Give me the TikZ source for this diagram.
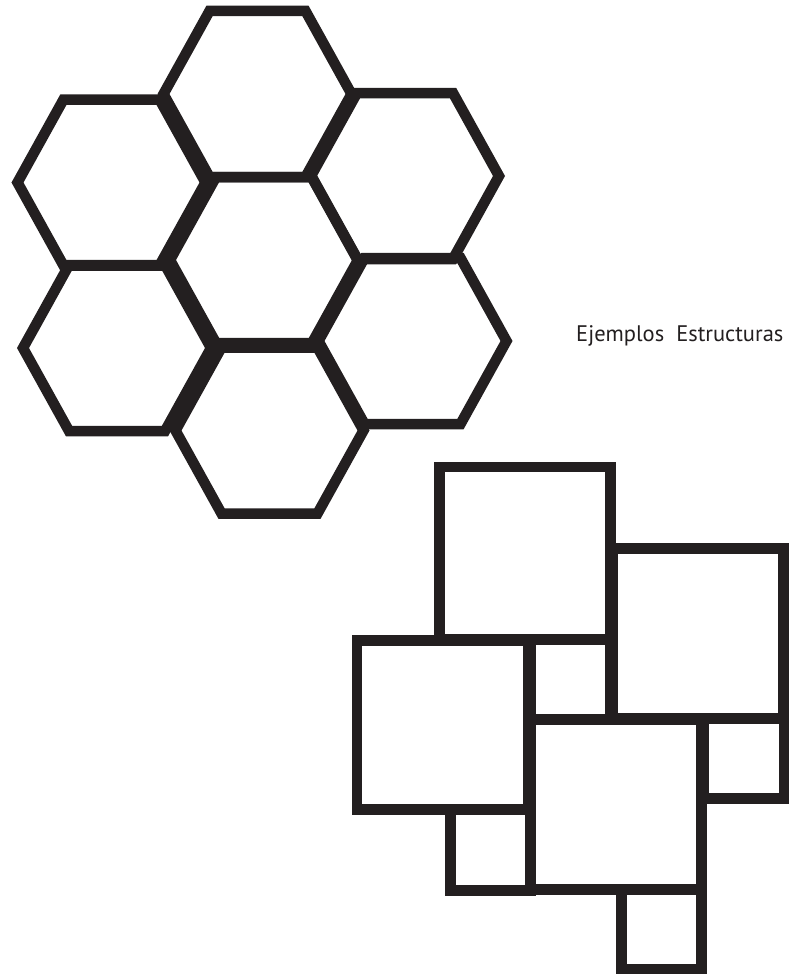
\documentclass[tikz,border=0pt]{standalone}
\usepackage{fontspec}
\newfontfamily\labelfont{PT Sans}
\definecolor{ink}{HTML}{231F20}
\begin{document}
\begin{tikzpicture}[x=1pt,y=-1pt,
  hexcell/.style={draw=ink,line width=10.5pt,line join=miter},
  sqcell/.style={draw=ink,line width=10.5pt,line join=miter},
  caption/.style={text=ink,font=\labelfont\fontsize{22.5}{27}\selectfont,anchor=base west,inner sep=0pt}]
\useasboundingbox (0,0) rectangle (799,974);
\newcommand{\hexat}[3]{%
  \draw[hexcell] (#2,#3) ++(94,0) -- ++(-46,-83) -- ++(-96,0) -- ++(-46,83) -- ++(46,83) -- ++(96,0) -- cycle;
  \coordinate (#1) at (#2,#3);}
\hexat{htop}{257.5}{94}
\hexat{hul}{111.5}{182.5}
\hexat{hur}{405}{176}
\hexat{hmid}{264}{260}
\hexat{hll}{117}{348}
\hexat{hlr}{412.5}{341}
\hexat{hbot}{269.5}{430.5}
% squares
\draw[sqcell] (439.7,467) rectangle (610.5,639);
\coordinate (sqA) at (525,553);
\draw[sqcell] (613,548.5) rectangle (783.7,718.5);
\coordinate (sqB) at (698,633);
\draw[sqcell] (357,640.3) rectangle (528,809.7);
\coordinate (sqC) at (442,725);
\draw[sqcell] (530.5,640) rectangle (610.5,719);
\coordinate (sqD) at (570,680);
\draw[sqcell] (530.5,719.5) rectangle (701.3,889.7);
\coordinate (sqE) at (616,805);
\draw[sqcell] (703.5,718.7) rectangle (784.2,798.7);
\coordinate (sqF) at (744,759);
\draw[sqcell] (450.3,810) rectangle (530.5,890.3);
\coordinate (sqG) at (490,850);
\draw[sqcell] (621.7,889.7) rectangle (701.7,969);
\coordinate (sqH) at (662,929);
\node[caption] (title) at (576,341.7) {Ejemplos\ \ Estructuras};
\end{tikzpicture}
\end{document}
